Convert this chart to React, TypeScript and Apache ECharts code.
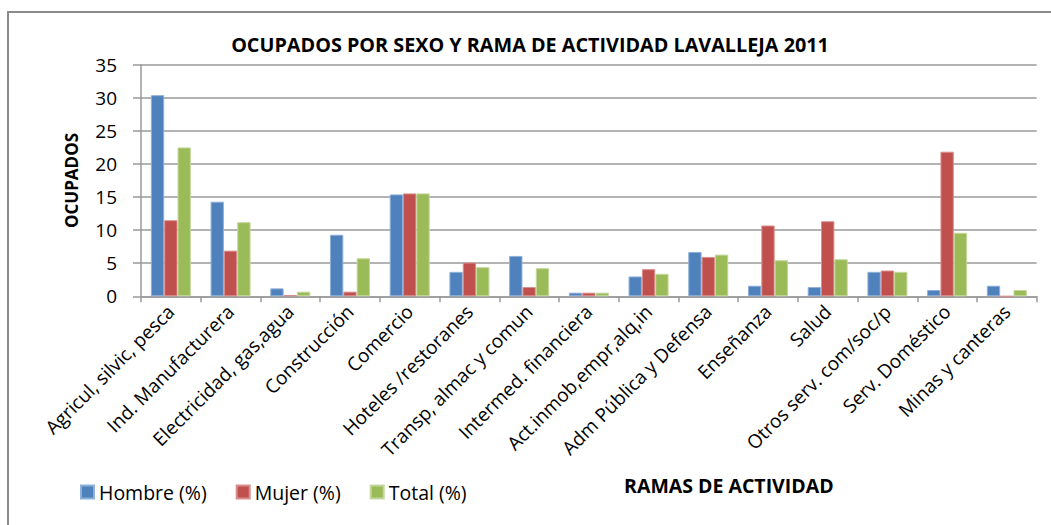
import React, { useEffect, useRef } from "react";
import * as echarts from "echarts";

const categories = [
  "Agricul, silvic, pesca",
  "Ind. Manufacturera",
  "Electricidad, gas,agua",
  "Construcción",
  "Comercio",
  "Hoteles /restoranes",
  "Transp, almac y comun",
  "Intermed. financiera",
  "Act.inmob,empr,alq,in",
  "Adm Pública y Defensa",
  "Enseñanza",
  "Salud",
  "Otros serv. com/soc/p",
  "Serv. Doméstico",
  "Minas y canteras",
];

const hombre = [30.4, 14.3, 1.2, 9.3, 15.4, 3.7, 6.1, 0.55, 3.0, 6.7, 1.6, 1.4, 3.7, 0.95, 1.6];
const mujer = [11.5, 6.9, 0.2, 0.7, 15.55, 5.1, 1.4, 0.55, 4.1, 5.95, 10.7, 11.35, 3.9, 21.85, 0];
const total = [22.5, 11.2, 0.7, 5.75, 15.55, 4.4, 4.25, 0.55, 3.4, 6.3, 5.45, 5.6, 3.7, 9.6, 0.95];

const yTicks = { min: 0, max: 35, interval: 5 };

const FONT = "'Open Sans', sans-serif";

export default function App() {
  const ref = useRef<HTMLDivElement>(null);
  useEffect(() => {
    document.body.style.margin = "0";
    if (!ref.current) return;
    const chart = echarts.init(ref.current, undefined, { renderer: "svg" });
    const grid = "#9a9a9a";
    const mk = (name: string, data: number[], color: string, border: string) => ({
      name,
      type: "bar" as const,
      data,
      barGap: "0%",
      barCategoryGap: "33%",
      itemStyle: { color, borderColor: border, borderWidth: 1 },
    });
    chart.setOption({
      animation: false,
      backgroundColor: "#ffffff",
      textStyle: { fontFamily: FONT },
      title: {
        text: "OCUPADOS POR SEXO Y RAMA DE ACTIVIDAD LAVALLEJA 2011",
        left: 525,
        textAlign: "center",
        top: 29,
        textStyle: { fontFamily: FONT, fontWeight: "bold", fontSize: 19.8, color: "#000" },
      },
      legend: {
        left: 75,
        top: 477,
        itemWidth: 13,
        itemHeight: 13,
        itemGap: 29,
        icon: "rect",
        textStyle: { fontFamily: FONT, fontSize: 19.5, color: "#000" },
        data: ["Hombre (%)", "Mujer (%)", "Total (%)"],
      },
      grid: { left: 141, right: 14.3, top: 64.7, bottom: 228.7 },
      xAxis: {
        type: "category",
        data: categories,
        name: "RAMAS DE ACTIVIDAD",
        nameLocation: "middle",
        nameGap: 179,
        nameTextStyle: {
          fontFamily: FONT,
          fontWeight: "bold",
          fontSize: 19.5,
          color: "#000",
          padding: [0, 0, 0, 280],
        },
        axisLine: { lineStyle: { color: grid, width: 1.5 } },
        axisTick: { show: true, length: 6, alignWithLabel: false, lineStyle: { color: grid, width: 1.5 } },
        axisLabel: { rotate: 45, interval: 0, margin: 12, fontFamily: FONT, fontSize: 19, color: "#000" },
      },
      yAxis: {
        type: "value",
        min: yTicks.min,
        max: yTicks.max,
        interval: yTicks.interval,
        name: "OCUPADOS",
        nameLocation: "middle",
        nameGap: 61,
        nameTextStyle: { fontFamily: FONT, fontWeight: "bold", fontSize: 17, color: "#000" },
        axisLine: { show: true, lineStyle: { color: grid, width: 1.5 } },
        axisTick: { show: true, length: 8, lineStyle: { color: grid, width: 1.5 } },
        axisLabel: { margin: 24, fontFamily: FONT, fontSize: 19, color: "#000" },
        splitLine: { lineStyle: { color: grid, width: 1.5 } },
      },
      graphic: [
        {
          type: "rect",
          shape: { x: 8, y: 12, width: 1100, height: 600 },
          style: { fill: "none", stroke: "#8a8a8a", lineWidth: 2 },
          silent: true,
          z: -1,
        },
      ],
      series: [
        mk("Hombre (%)", hombre, "#4F81BD", "#8fb0d8"),
        mk("Mujer (%)", mujer, "#C0504D", "#d98e8c"),
        mk("Total (%)", total, "#9BBB59", "#c3d79b"),
      ],
    });
    return () => chart.dispose();
  }, []);
  return <div ref={ref} style={{ width: 1051, height: 525 }} />;
}
